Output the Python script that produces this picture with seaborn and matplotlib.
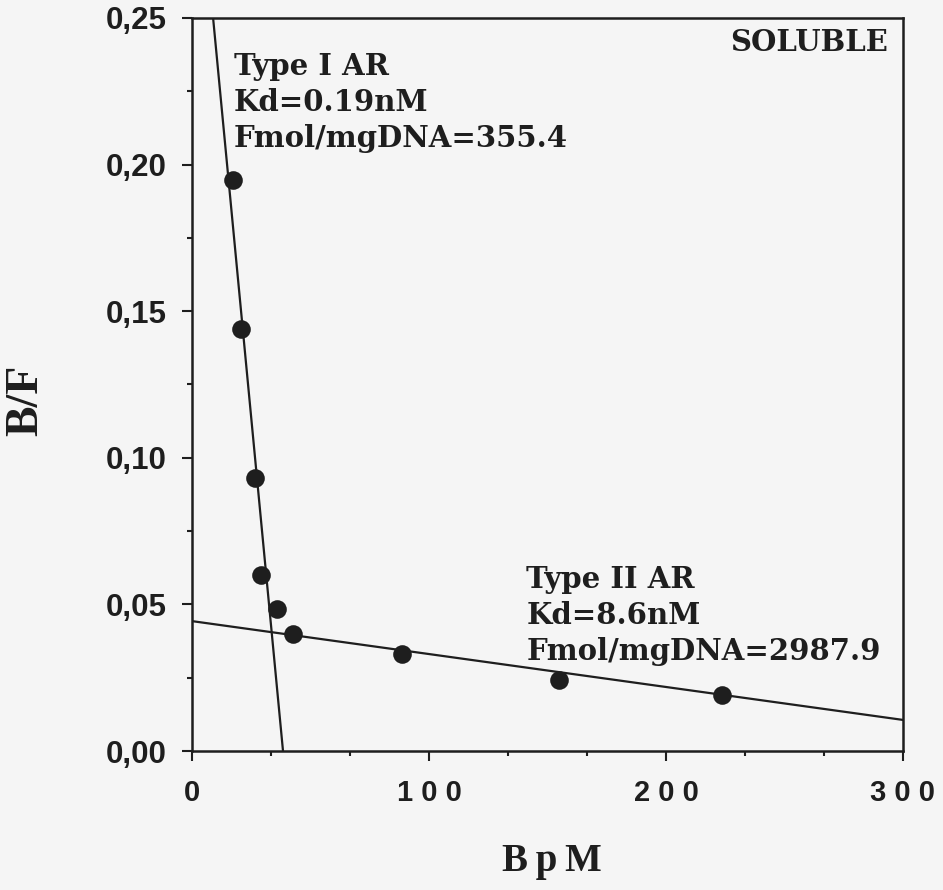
import matplotlib
matplotlib.use("Agg")
import matplotlib.pyplot as plt
import seaborn as sns
import pandas as pd
from matplotlib.ticker import MultipleLocator, FixedLocator

# data
bpm = [17.3, 20.7, 26.6, 29.1, 35.9, 42.6, 88.6, 154.9, 223.6]
bf = [0.1948, 0.1439, 0.0931, 0.0600, 0.0484, 0.0399, 0.0331, 0.0242, 0.0191]

line1_x = [8.9, 38.4]
line1_y = [0.25, 0.0]
line2_x = [0.0, 300.0]
line2_y = [0.0443, 0.0106]

xticks = [0, 100, 200, 300]
xticklabels = ["0", "1 0 0", "2 0 0", "3 0 0"]
yticks = [0.0, 0.05, 0.10, 0.15, 0.20, 0.25]
yticklabels = ["0,00", "0,05", "0,10", "0,15", "0,20", "0,25"]

text1 = "Type I AR\nKd=0.19nM\nFmol/mgDNA=355.4"
text2 = "Type II AR\nKd=8.6nM\nFmol/mgDNA=2987.9"
text3 = "SOLUBLE"
xlabel = "B\u2009p\u2009M"
ylabel = "B/F"

sns.set_style("ticks")
plt.rcParams["font.family"] = ["DejaVu Sans"]

bg = "#f5f5f5"
ink = "#1e1e1e"
fig = plt.figure(figsize=(9.43, 8.90), dpi=100, facecolor=bg)
ax = fig.add_axes([192 / 943, 1 - 751 / 890, (903 - 192) / 943, (751 - 18) / 890])
ax.set_facecolor(bg)

df_pts = pd.DataFrame({"x": bpm, "y": bf})
df_l1 = pd.DataFrame({"x": line1_x, "y": line1_y})
df_l2 = pd.DataFrame({"x": line2_x, "y": line2_y})

sns.lineplot(data=df_l1, x="x", y="y", ax=ax, color=ink, lw=1.6, sort=False)
sns.lineplot(data=df_l2, x="x", y="y", ax=ax, color=ink, lw=1.6, sort=False)
sns.scatterplot(data=df_pts, x="x", y="y", ax=ax, color=ink, s=180, edgecolor=ink, linewidth=0, zorder=5)

ax.set_xlim(0, 300)
ax.set_ylim(0, 0.25)

ax.xaxis.set_major_locator(FixedLocator(xticks))
ax.set_xticklabels(xticklabels)
ax.xaxis.set_minor_locator(MultipleLocator(100 / 3))
ax.yaxis.set_major_locator(FixedLocator(yticks))
ax.set_yticklabels(yticklabels)
ax.yaxis.set_minor_locator(MultipleLocator(0.025))

for sp in ax.spines.values():
    sp.set_linewidth(1.8)
    sp.set_color(ink)

ax.tick_params(axis="both", which="major", direction="out", length=7, width=1.5, color=ink)
ax.tick_params(axis="both", which="minor", direction="out", length=3.5, width=1.5, color=ink)
ax.tick_params(axis="x", which="major", pad=13)
ax.tick_params(axis="y", which="major", pad=11)
for lab in ax.get_xticklabels():
    lab.set_fontfamily("Liberation Sans")
    lab.set_fontweight("bold")
    lab.set_fontsize(21)
    lab.set_color(ink)
for lab in ax.get_yticklabels():
    lab.set_fontfamily("Liberation Sans")
    lab.set_fontweight("bold")
    lab.set_fontsize(22.5)
    lab.set_color(ink)

ax.set_xlabel("")
ax.set_ylabel("")
fig.text(552 / 943, 1 - 862 / 890, xlabel, fontfamily="Liberation Serif", fontweight="bold",
         fontsize=28, color=ink, ha="center", va="center")
fig.text(26 / 943, 1 - 400 / 890, ylabel, fontfamily="Liberation Serif", fontweight="bold",
         fontsize=33, color=ink, ha="center", va="center", rotation=90)

ax.text(17.7, 0.2385, text1, fontfamily="DejaVu Serif", fontweight="bold", fontsize=21,
        color=ink, ha="left", va="top", linespacing=1.3)
ax.text(141.0, 0.0635, text2, fontfamily="DejaVu Serif", fontweight="bold", fontsize=21,
        color=ink, ha="left", va="top", linespacing=1.3)
ax.text(293.5, 0.2465, text3, fontfamily="DejaVu Serif", fontweight="bold", fontsize=21,
        color=ink, ha="right", va="top")

fig.savefig("out.png", dpi=100, facecolor=bg)
